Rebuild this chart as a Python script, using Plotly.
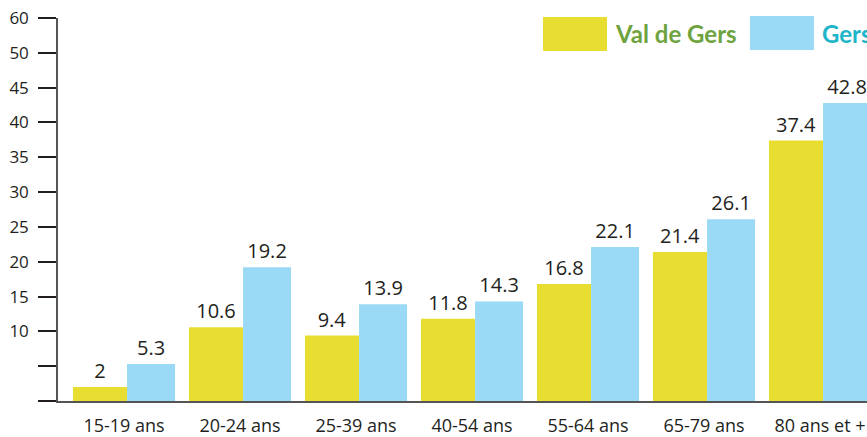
import plotly.graph_objects as go

categories = ["15-19 ans", "20-24 ans", "25-39 ans", "40-54 ans", "55-64 ans", "65-79 ans", "80 ans et +"]
val_de_gers = [2, 10.6, 9.4, 11.8, 16.8, 21.4, 37.4]
gers = [5.3, 19.2, 13.9, 14.3, 22.1, 26.1, 42.8]
y_tick_vals = [0, 5, 10, 15, 20, 25, 30, 35, 40, 45, 50, 55]
y_tick_text = ["", "", "10", "15", "20", "25", "30", "35", "40", "45", "50", "60"]

YELLOW = "#e8de32"
BLUE = "#9bdaf6"
TXT = "#231f20"
FONT = "Open Sans, Noto Sans, sans-serif"

W, H = 867, 437
L, T, R, B = 58, 18, 0, 36

fig = go.Figure()
fig.add_trace(go.Bar(
    x=categories, y=val_de_gers, name="Val de Gers",
    marker=dict(color=YELLOW, line=dict(width=0)),
    width=0.466, offset=-0.44,
    text=[str(v) for v in val_de_gers], textposition="outside",
    textfont=dict(size=20, color=TXT, family=FONT), cliponaxis=False,
))
fig.add_trace(go.Bar(
    x=categories, y=gers, name="Gers",
    marker=dict(color=BLUE, line=dict(width=0)),
    width=0.414, offset=0.026,
    text=[str(v) for v in gers], textposition="outside",
    textfont=dict(size=20, color=TXT, family=FONT), cliponaxis=False,
))

fig.update_layout(
    width=W, height=H,
    margin=dict(l=L, r=R, t=T, b=B, pad=0),
    paper_bgcolor="white", plot_bgcolor="white",
    showlegend=False, barmode="overlay",
    font=dict(family=FONT, color=TXT),
    xaxis=dict(
        range=[-0.569, 6.405], showgrid=False, zeroline=False,
        showline=True, linecolor="#555555", linewidth=1.5,
        ticks="", ticklabelstandoff=8,
        tickfont=dict(size=18, color=TXT, family=FONT),
    ),
    yaxis=dict(
        range=[0, 55], tickvals=y_tick_vals, ticktext=y_tick_text,
        showgrid=False, zeroline=False,
        showline=True, linecolor="#555555", linewidth=1.5,
        ticks="outside", ticklen=18, tickwidth=2, tickcolor=TXT,
        ticklabelstandoff=6, ticklabeloverflow="allow",
        tickfont=dict(size=17, color=TXT, family=FONT),
    ),
)

# legend drawn as keys + labels (paper coordinates, from window pixels)
pw = W - L - R
ph = H - T - B
def px(x):
    return (x - L) / pw
def py(y):
    return (H - B - y) / ph

fig.add_shape(type="rect", xref="paper", yref="paper",
              x0=px(543), x1=px(607), y0=py(51), y1=py(17),
              fillcolor=YELLOW, line=dict(width=0))
fig.add_shape(type="rect", xref="paper", yref="paper",
              x0=px(750), x1=px(814), y0=py(50), y1=py(16),
              fillcolor=BLUE, line=dict(width=0))
fig.add_annotation(xref="paper", yref="paper", x=px(613), y=py(34),
                   xanchor="left", yanchor="middle", showarrow=False,
                   text="<b>Val de Gers</b>",
                   font=dict(family="Lato, sans-serif", size=24, color="#6fa33f"))
fig.add_annotation(xref="paper", yref="paper", x=px(820), y=py(34),
                   xanchor="left", yanchor="middle", showarrow=False,
                   text="<b>Gers</b>",
                   font=dict(family="Lato, sans-serif", size=24, color="#20b5c9"))

post = ("document.documentElement.style.margin='0';"
        "document.documentElement.style.overflow='hidden';"
        "document.body.style.margin='0';"
        "document.body.style.overflow='hidden';")

fig.write_html("out.html", post_script=post, config={"displayModeBar": False})
